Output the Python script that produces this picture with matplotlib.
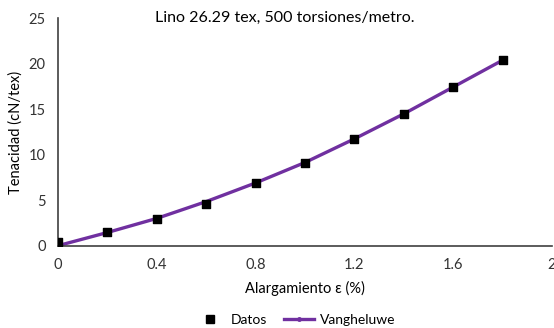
import matplotlib.pyplot as plt
from matplotlib.lines import Line2D

plt.rcParams['font.family'] = ['Lato', 'DejaVu Sans']

# alargamiento (%) y tenacidad medida (cN/tex)
elong = [0.0, 0.2, 0.4, 0.6, 0.8, 1.0, 1.2, 1.4, 1.6, 1.8]
tenac = [0.4, 1.5, 2.9, 4.6, 6.9, 9.1, 11.75, 14.5, 17.45, 20.45]

# curva del modelo de Vangheluwe
model_x = [0.0, 0.2, 0.4, 0.6, 0.8, 1.0, 1.2, 1.4, 1.6, 1.8]
model_y = [0.0, 1.45, 3.0, 4.85, 6.9, 9.15, 11.75, 14.5, 17.45, 20.4]

xticks = [0, 0.4, 0.8, 1.2, 1.6, 2]
xticklabels = ['0', '0.4', '0.8', '1.2', '1.6', '2']
yticks = [0, 5, 10, 15, 20, 25]

purple = '#7030A0'

fig = plt.figure(figsize=(5.54, 3.28), dpi=100)
ax = fig.add_axes([0.1047, 0.251, 0.8917, 0.693])

ax.plot(model_x, model_y, color=purple, lw=2.4, zorder=2)
ax.scatter(elong, tenac, marker='s', s=28, color='black', zorder=3)

ax.set_xlim(0, 2)
ax.set_ylim(0, 25)
ax.set_xticks(xticks)
ax.set_xticklabels(xticklabels)
ax.set_yticks(yticks)
ax.tick_params(length=0, labelsize=10.5, colors='#333333', pad=9)
for s in ['top', 'right']:
    ax.spines[s].set_visible(False)
for s in ['left', 'bottom']:
    ax.spines[s].set_color('#404040')
    ax.spines[s].set_linewidth(1.2)

ax.set_xlabel('Alargamiento ε (%)', fontsize=10.5, labelpad=6)
ax.set_ylabel('Tenacidad (cN/tex)', fontsize=10.5, labelpad=4)

fig.text(285 / 554, 1 - 18 / 328, 'Lino 26.29 tex, 500 torsiones/metro.',
         ha='center', va='center', fontsize=11.5)

handles = [
    Line2D([], [], ls='none', marker='s', color='black', markersize=6),
    Line2D([], [], color=purple, lw=2.4, marker='o', markersize=2.5),
]
fig.legend(handles, ['Datos', 'Vangheluwe'], loc='center',
           bbox_to_anchor=(295 / 554, 1 - 320 / 328), ncol=2, frameon=False,
           fontsize=10, handlelength=2.2, columnspacing=1.2, handletextpad=0.4)

fig.savefig('out.png', dpi=100)
